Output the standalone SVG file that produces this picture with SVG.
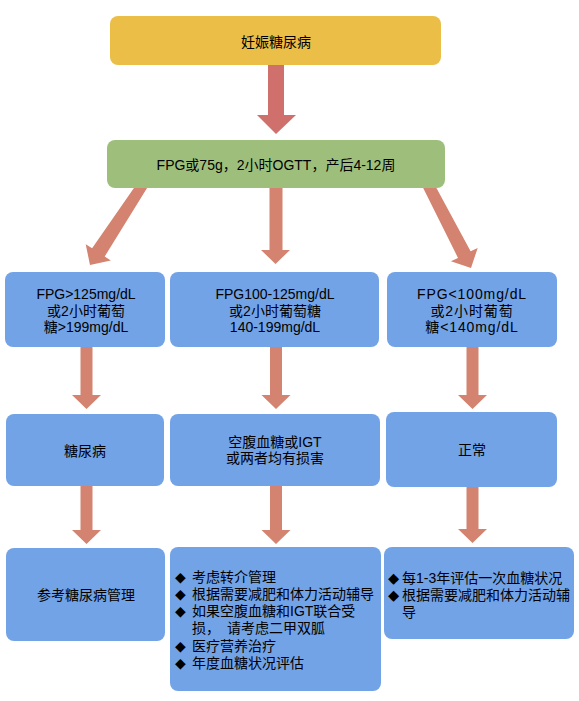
<svg xmlns="http://www.w3.org/2000/svg" width="579" height="701" viewBox="0 0 579 701">
<style>
.box{fill:#72A3E7}
.t{font-family:"Liberation Sans","Noto Sans CJK SC",sans-serif;font-size:14px;fill:#000;text-anchor:middle;dominant-baseline:central}
.l{font-family:"Liberation Sans","Noto Sans CJK SC",sans-serif;font-size:14px;fill:#000;dominant-baseline:central}
.b{font-family:"DejaVu Sans",sans-serif;font-size:14px}
.b2{font-family:"DejaVu Sans",sans-serif;font-size:14.5px}
.ar{fill:#D3836F}
.ar0{fill:#CF706C}
.ws{letter-spacing:0.9px}
</style>
<rect width="579" height="701" fill="#fff"/>
<g id="connectors">
  <polygon class="ar0" points="268,62 284,62 284,115 296,115 276,134 257,115 268,115"/>
  <polygon class="ar" points="139.5,180 152.0,180 104.7,256.5 110.8,260.6 90,265 85.7,244.2 92.1,248.3"/>
  <polygon class="ar" points="269.5,185 282.5,185 282.5,250 290,250 275.5,264 261,250 269.5,250"/>
  <polygon class="ar" points="419.2,180 432.1,180 470.6,251.3 477.7,247.9 471,268 450.9,261.3 458.0,257.9"/>
  <polygon class="ar" points="80.5,344 92.5,344 92.5,395 101,395 86.5,409 72,395 80.5,395"/>
  <polygon class="ar" points="270,344 282,344 282,395 290.5,395 276,409 261.5,395 270,395"/>
  <polygon class="ar" points="466.5,344 478.5,344 478.5,395 487,395 472.5,409 458,395 466.5,395"/>
  <polygon class="ar" points="80.5,483 92.5,483 92.5,530 101,530 86.5,544 72,530 80.5,530"/>
  <polygon class="ar" points="270,483 282,483 282,530 290.5,530 276,544 261.5,530 270,530"/>
  <polygon class="ar" points="466.5,483 478.5,483 478.5,529 487,529 472.5,543 458,529 466.5,529"/>
</g>
<g id="n1">
  <rect x="110" y="16" width="331" height="49" rx="8" fill="#EBBE47"/>
  <text class="t" x="276" y="42">妊娠糖尿病</text>
</g>
<g id="n2">
  <rect x="107" y="140" width="338" height="48" rx="8" fill="#9EBF7C"/>
  <text class="t" x="276" y="165">FPG或75g，2小时OGTT，产后4-12周</text>
</g>
<g id="n3">
  <rect class="box" x="5" y="272" width="160" height="75" rx="8"/>
  <text class="t" x="86"><tspan x="86" y="294">FPG&gt;125mg/dL</tspan><tspan x="86" y="310.5">或2小时葡萄</tspan><tspan x="86" y="327">糖&gt;199mg/dL</tspan></text>
</g>
<g id="n4">
  <rect class="box" x="170" y="272" width="209" height="75" rx="8"/>
  <text class="t" x="275"><tspan x="275" y="294">FPG100-125mg/dL</tspan><tspan x="275" y="310.5">或2小时葡萄糖</tspan><tspan x="275" y="327">140-199mg/dL</tspan></text>
</g>
<g id="n5">
  <rect class="box" x="387" y="272" width="170" height="75" rx="8"/>
  <text class="t ws" x="472"><tspan x="472" y="294">FPG&lt;100mg/dL</tspan><tspan x="472" y="310.5">或2小时葡萄</tspan><tspan x="472" y="327">糖&lt;140mg/dL</tspan></text>
</g>
<g id="n6">
  <rect class="box" x="6" y="414" width="158" height="72" rx="8"/>
  <text class="t" x="85" y="451">糖尿病</text>
</g>
<g id="n7">
  <rect class="box" x="170" y="414" width="210" height="72" rx="8"/>
  <text class="t" x="275"><tspan x="275" y="442">空腹血糖或IGT</tspan><tspan x="275" y="458">或两者均有损害</tspan></text>
</g>
<g id="n8">
  <rect class="box" x="386" y="412" width="171" height="75" rx="8"/>
  <text class="t" x="472" y="450">正常</text>
</g>
<g id="n9">
  <rect class="box" x="6" y="548" width="159" height="93" rx="8"/>
  <text class="t" x="86" y="595">参考糖尿病管理</text>
</g>
<g id="n10">
  <rect class="box" x="170" y="547" width="211" height="144" rx="8"/>
  <text class="l" y="576.5"><tspan class="b" x="175">◆</tspan><tspan x="192">考虑转介管理</tspan></text>
  <text class="l" y="593.8"><tspan class="b" x="175">◆</tspan><tspan x="192">根据需要减肥和体力活动辅导</tspan></text>
  <text class="l" y="611.1"><tspan class="b" x="175">◆</tspan><tspan x="192">如果空腹血糖和IGT联合受</tspan></text>
  <text class="l" x="192" y="628.4">损，<tspan dx="3"> 请考虑二甲双胍</tspan></text>
  <text class="l" y="645.7"><tspan class="b" x="175">◆</tspan><tspan x="192">医疗营养治疗</tspan></text>
  <text class="l" y="663"><tspan class="b" x="175">◆</tspan><tspan x="192">年度血糖状况评估</tspan></text>
</g>
<g id="n11">
  <rect class="box" x="384" y="547" width="190" height="92" rx="8"/>
  <text class="l" y="578"><tspan class="b2" x="388">◆</tspan><tspan x="402">每1-3年评估一次血糖状况</tspan></text>
  <text class="l" y="595"><tspan class="b2" x="388">◆</tspan><tspan x="402">根据需要减肥和体力活动辅</tspan></text>
  <text class="l" x="402" y="612">导</text>
</g>
</svg>
